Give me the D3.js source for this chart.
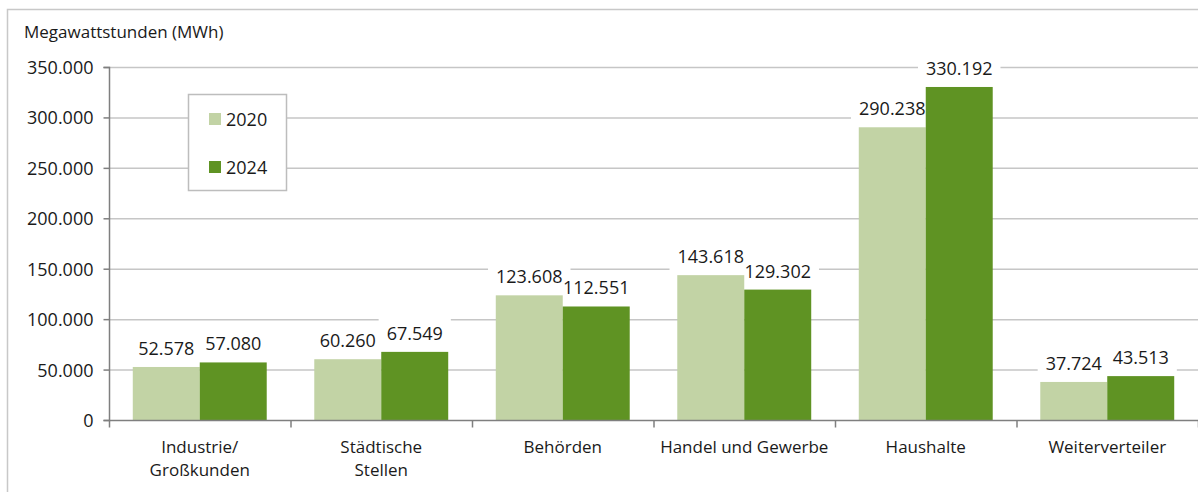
<!DOCTYPE html>
<html><head><meta charset="utf-8">
<script src="https://cdn.jsdelivr.net/npm/d3@7"></script>
<style>
body{margin:0;background:#fff;}
text{font-family:"Open Sans",sans-serif;fill:#1a1a1a;}
</style></head>
<body><svg id="c" width="1198" height="492"></svg>
<script>
const categories = [["Industrie/","Großkunden"],["Städtische","Stellen"],["Behörden"],["Handel und Gewerbe"],["Haushalte"],["Weiterverteiler"]];
const series = ["2020","2024"];
const values2020 = [52578, 60260, 123608, 143618, 290238, 37724];
const values2024 = [57080, 67549, 112551, 129302, 330192, 43513];
const yTicks = [0,50000,100000,150000,200000,250000,300000,350000];
const colors = ["#c2d3a5","#5f9323"];
const yTitle = "Megawattstunden (MWh)";

const svg = d3.select("#c");
const fmt = v => d3.format(",")(v).replace(/,/g,".");
// outer frame
svg.append("path").attr("d","M7.5,500 V9.5 H1210").attr("fill","none").attr("stroke","#c8c8c8").attr("stroke-width",1.5);

const x0 = 109, x1 = 1198, yTop = 67, yBot = 420;
const idx = d3.range(categories.length);
const x = d3.scaleBand().domain(idx).range([x0,x1]).paddingInner(0.262).paddingOuter(0.131);
const xs = d3.scaleBand().domain(series).range([0,x.bandwidth()]);
const y = d3.scaleLinear().domain([0,350000]).range([yBot,yTop]);

// gridlines
svg.append("g").selectAll("line").data(yTicks.filter(t=>t>0)).join("line")
  .attr("x1",x0).attr("x2",x1).attr("y1",d=>y(d)+0.5).attr("y2",d=>y(d)+0.5)
  .attr("stroke","#c6c6c6").attr("stroke-width",1.5);

const data = [];
idx.forEach(i=>{series.forEach((s,j)=>{data.push({i,s,j,v:(j===0?values2020:values2024)[i]});});});
const cx = d => x(d.i)+xs(d.s)+xs.bandwidth()/2;

// label backgrounds + texts (texts later on top)
const boxG = svg.append("g");
const barG = svg.append("g");
const txtG = svg.append("g");

const lt = txtG.selectAll("text").data(data).join("text")
  .attr("text-anchor","middle").attr("font-size",18)
  .attr("x",cx).attr("y",d=>y(d.v)-12).text(d=>fmt(d.v));
lt.each(function(d){
  const bb = this.getBBox();
  boxG.append("rect").attr("x",bb.x-8).attr("width",bb.width+16)
    .attr("y",y(d.v)-34).attr("height",29).attr("fill","#fff");
});

barG.selectAll("rect").data(data).join("rect")
  .attr("x",d=>x(d.i)+xs(d.s)).attr("width",xs.bandwidth())
  .attr("y",d=>y(d.v)).attr("height",d=>yBot-y(d.v))
  .attr("fill",d=>colors[d.j]);

// y axis
const ya = svg.append("g").attr("transform",`translate(${x0+0.5},0)`)
  .call(d3.axisLeft(y).tickValues(yTicks).tickFormat(fmt).tickSize(6).tickPadding(10));
ya.select(".domain").attr("stroke","#7f7f7f").attr("stroke-width",1.5).attr("d",`M-6,${yTop+0.5}H0V${yBot+0.5}H-6`);
ya.selectAll(".tick line").attr("stroke","#7f7f7f").attr("stroke-width",1.5);
ya.selectAll(".tick text").attr("font-size",18).attr("font-family","Open Sans").attr("fill","#1a1a1a").attr("dy","0.36em");

// x axis
const xa = svg.append("g").attr("transform",`translate(0,${yBot+0.5})`);
xa.append("line").attr("x1",x0).attr("x2",x1).attr("stroke","#7f7f7f").attr("stroke-width",1.5);
const step = x.step();
xa.selectAll("line.tk").data(d3.range(categories.length+1)).join("line").attr("class","tk")
  .attr("x1",d=>x0+0.5+d*step).attr("x2",d=>x0+0.5+d*step).attr("y1",0).attr("y2",7)
  .attr("stroke","#7f7f7f").attr("stroke-width",1.5);
const lab = xa.selectAll("text.cat").data(idx).join("text").attr("class","cat")
  .attr("text-anchor","middle").attr("font-size",17)
  .attr("transform",d=>`translate(${x(d)+x.bandwidth()/2},0)`);
lab.selectAll("tspan").data(d=>categories[d]).join("tspan")
  .attr("x",0).attr("y",(d,i)=>32+i*23).text(d=>d);

// y title
svg.append("text").attr("x",24).attr("y",38).attr("font-size",17).text(yTitle);

// legend
const leg = svg.append("g");
leg.append("rect").attr("x",188.5).attr("y",94.5).attr("width",98).attr("height",96).attr("fill","#fff").attr("stroke","#bdbdbd").attr("stroke-width",1.5);
const li = leg.selectAll("g").data(series).join("g").attr("transform",(d,i)=>`translate(209,${113+i*48})`);
li.append("rect").attr("width",12).attr("height",12).attr("fill",(d,i)=>colors[i]);
li.append("text").attr("x",17).attr("y",12.5).attr("font-size",18).text(d=>d);
</script></body></html>
